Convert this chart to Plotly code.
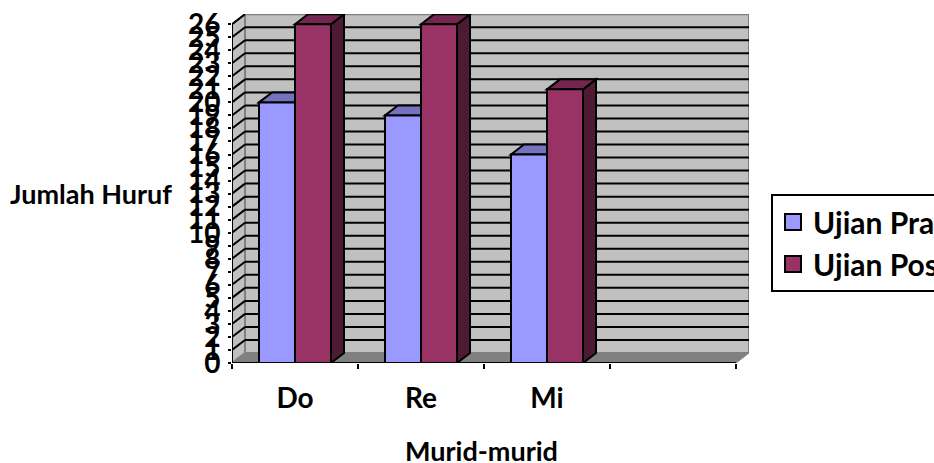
import plotly.graph_objects as go

categories = ["Do", "Re", "Mi"]
pra = [20, 19, 16]
post = [26, 26, 21]
y_ticks = list(range(0, 27))
series_names = ["Ujian Pra", "Ujian Post"]

C_PRA, C_PRA_TOP = "#9999FF", "#7373BF"
C_POST, C_POST_TOP, C_POST_SIDE = "#993366", "#732650", "#4D1A33"
WALL, EDGE = "#C0C0C0", "#808080"
FONT = "Lato"

L, R, T, B = 232, 749, 14, 363
CAT_PX = 126.0
UNIT_PX = 339 / 26
DX = 13 / CAT_PX
DY = 10 / UNIT_PX
X0, X1 = -0.5, 3.5
BAR_W = 36 / CAT_PX
YMAX = max(y_ticks)
LW = 2

def poly(pts, fill, line="black", width=LW):
    p = "M" + " L".join(f"{a},{b}" for a, b in pts) + " Z"
    return dict(type="path", path=p, xref="x", yref="y", fillcolor=fill, layer="below",
                line=dict(color=line, width=width))

shapes = []
shapes.append(poly([(X0, 0), (X0 + DX, DY), (X0 + DX, YMAX + DY), (X0, YMAX)], WALL, EDGE, 2))
shapes.append(poly([(X0 + DX, DY), (X1 + DX, DY), (X1 + DX, YMAX + DY), (X0 + DX, YMAX + DY)], WALL, EDGE, 2))
shapes.append(poly([(X0, 0), (X1, 0), (X1 + DX, DY), (X0 + DX, DY)], EDGE, EDGE, 1))
for v in y_ticks[1:]:
    shapes.append(dict(type="line", xref="x", yref="y", layer="below", x0=X0, y0=v, x1=X0 + DX, y1=v + DY,
                       line=dict(color="black", width=LW)))
    if v < YMAX:
        shapes.append(dict(type="line", xref="x", yref="y", layer="below", x0=X0 + DX, y0=v + DY, x1=X1 + DX, y1=v + DY,
                           line=dict(color="black", width=LW)))
for i in range(len(categories)):
    for vals, left, top, side in ((pra, i - BAR_W, C_PRA_TOP, C_PRA_TOP), (post, i, C_POST_TOP, C_POST_SIDE)):
        v = vals[i]
        r = left + BAR_W
        shapes.append(poly([(r, 0), (r + DX, DY), (r + DX, v + DY), (r, v)], side))
        shapes.append(poly([(left, v), (left + DX, v + DY), (r + DX, v + DY), (r, v)], top))

fig = go.Figure()
idx = list(range(len(categories)))
for name, vals, col in zip(series_names, (pra, post), (C_PRA, C_POST)):
    fig.add_bar(x=idx, y=vals, name=name, marker=dict(color=col, line=dict(color="black", width=LW)),
                showlegend=False, hoverinfo="skip")
    fig.add_scatter(x=[None], y=[None], mode="markers", name=name,
                    marker=dict(symbol="square", size=16, color=col, line=dict(color="black", width=LW)))
fig.add_scatter(x=[X0, X1], y=[0, 0], mode="lines", line=dict(color="black", width=LW), showlegend=False, cliponaxis=False)
fig.add_scatter(x=[X0, X0], y=[0, YMAX], mode="lines", line=dict(color="black", width=LW), showlegend=False, cliponaxis=False)

fig.update_layout(
    width=934, height=463, autosize=False,
    margin=dict(l=L, r=934 - R, t=T, b=463 - B, pad=0, autoexpand=False),
    paper_bgcolor="white", plot_bgcolor="rgba(0,0,0,0)",
    barmode="group", bargap=1 - 2 * BAR_W, bargroupgap=0,
    shapes=shapes,
    xaxis=dict(range=[X0, X1 + DX], tickvals=idx, ticktext=categories, showgrid=False, zeroline=False,
               ticks="", ticklabelstandoff=16, tickfont=dict(family=FONT, size=28, color="black", weight=700),
               minor=dict(tickvals=[X0 + k for k in range(5)], ticks="outside", ticklen=5, tickcolor="black", tickwidth=LW, showgrid=False)),
    yaxis=dict(range=[0, YMAX + 1.02 * DY], tickvals=y_ticks, showgrid=False, zeroline=False,
               ticks="outside", ticklen=3, tickcolor="black", tickwidth=LW, ticklabelstandoff=2,
               tickfont=dict(family=FONT, size=28, color="black", weight=700)),
    legend=dict(x=(771 - L) / (R - L), xanchor="left", y=(B - 194) / (B - T), yanchor="top",
                bordercolor="black", borderwidth=2, bgcolor="white",
                font=dict(family=FONT, size=30, color="black", weight=700), itemsizing="trace", tracegroupgap=0),
    annotations=[
        dict(text="Jumlah Huruf", xref="paper", yref="paper", x=(91 - L) / (R - L), y=(B - 193) / (B - T), showarrow=False,
             xanchor="center", yanchor="middle", font=dict(family=FONT, size=27, color="black", weight=700)),
        dict(text="Murid-murid", xref="paper", yref="paper", x=(481 - L) / (R - L), y=(B - 450) / (B - T), showarrow=False,
             xanchor="center", yanchor="middle", font=dict(family=FONT, size=27, color="black", weight=700)),
    ],
)
fig.write_html("out.html", config=dict(displayModeBar=False),
               post_script="document.body.style.margin='0';document.body.style.overflow='hidden';")
